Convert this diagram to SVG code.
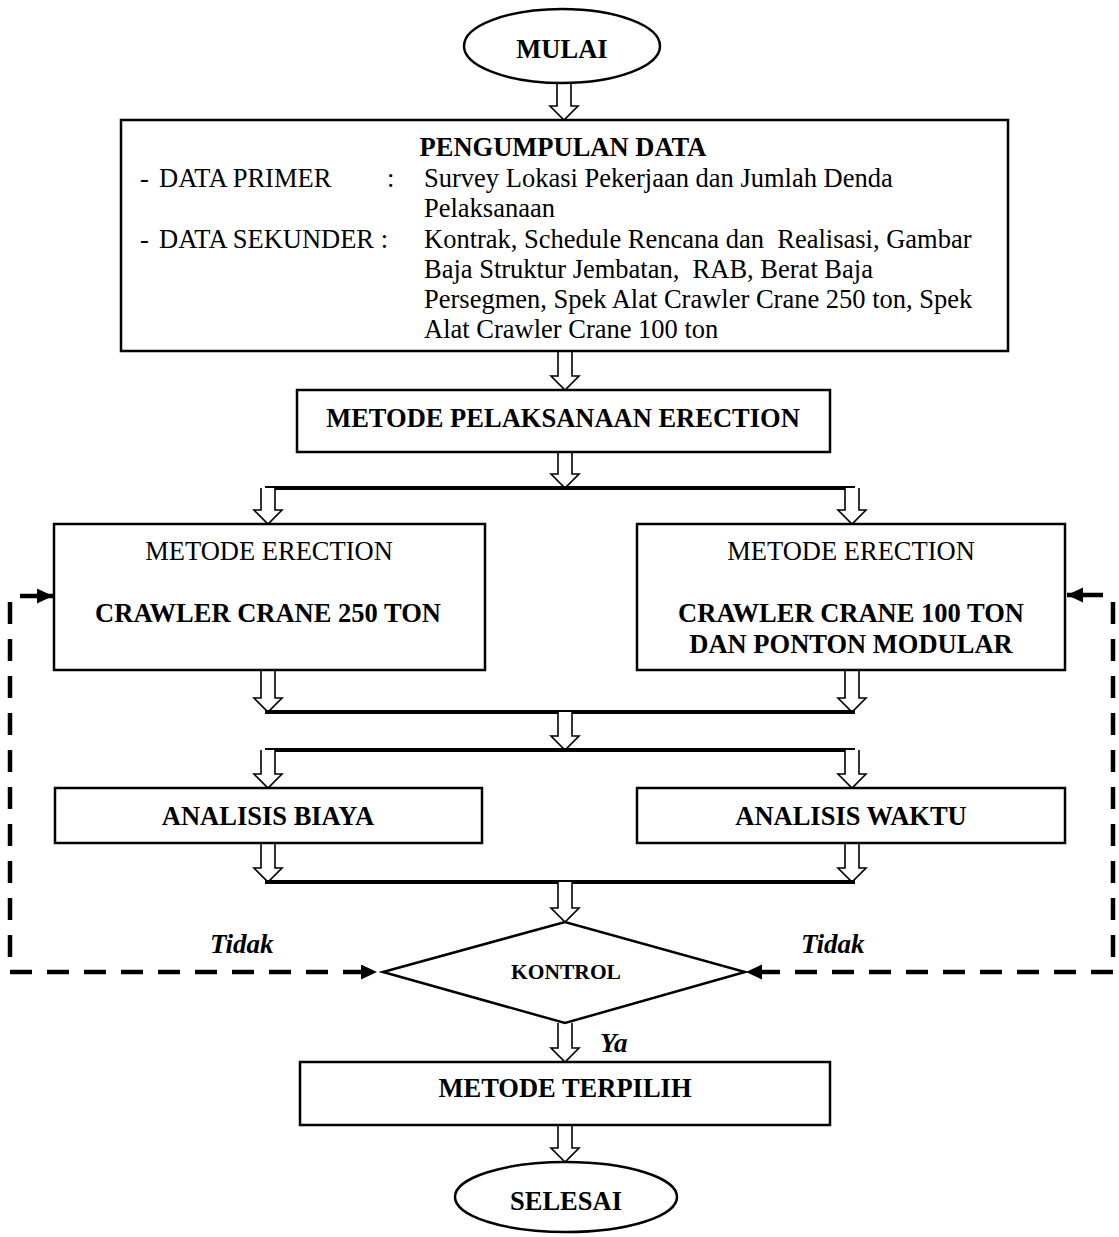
<svg xmlns="http://www.w3.org/2000/svg" width="1119" height="1237" viewBox="0 0 1119 1237">
<style>
.box{fill:#fff;stroke:#000;stroke-width:2.5}
.t{font-family:"Liberation Serif","Times New Roman",serif;font-size:26.5px;fill:#000}
.b{font-weight:bold}
.c{text-anchor:middle}
.it{font-style:italic;font-weight:bold;font-size:27px}
.ha{fill:#fff;stroke:#000;stroke-width:1.6;stroke-linejoin:miter}
.bar{stroke:#000;stroke-width:4;fill:none}
.dash{stroke:#000;stroke-width:4.5;fill:none;stroke-dasharray:22 15}
.sol{stroke:#000;stroke-width:4.5;fill:none}
</style>
<defs>
<marker id="ah" markerUnits="userSpaceOnUse" markerWidth="17" markerHeight="16" refX="16" refY="7.5" orient="auto">
<path d="M0,0 L16,7.5 L0,15 Z" fill="#000"/>
</marker>
</defs>

<g id="connectors">
<path class="ha" d="M557 83 V106 H550 L564 120 L578 106 H571 V83"/>
<path class="ha" d="M558 351 V376 H551 L565 390 L579 376 H572 V351"/>
<path class="ha" d="M558 452 V474 H551 L565 488 L579 474 H572 V452"/>
<line class="bar" x1="265" y1="488" x2="855" y2="488"/>
<path class="ha" d="M261 488 V510 H254 L268 524 L282 510 H275 V488"/>
<path class="ha" d="M845 488 V510 H838 L852 524 L866 510 H859 V488"/>
<path class="ha" d="M261 670 V698 H254 L268 712 L282 698 H275 V670"/>
<path class="ha" d="M845 670 V698 H838 L852 712 L866 698 H859 V670"/>
<line class="bar" x1="265" y1="712" x2="855" y2="712"/>
<path class="ha" d="M558 712 V736 H551 L565 750 L579 736 H572 V712"/>
<line class="bar" x1="265" y1="750" x2="855" y2="750"/>
<path class="ha" d="M261 750 V774 H254 L268 788 L282 774 H275 V750"/>
<path class="ha" d="M845 750 V774 H838 L852 788 L866 774 H859 V750"/>
<path class="ha" d="M261 843 V868 H254 L268 882 L282 868 H275 V843"/>
<path class="ha" d="M845 843 V868 H838 L852 882 L866 868 H859 V843"/>
<line class="bar" x1="265" y1="882" x2="855" y2="882"/>
<path class="ha" d="M558 882 V908 H551 L565 922 L579 908 H572 V882"/>
<path class="ha" d="M558 1023 V1048 H551 L565 1062 L579 1048 H572 V1023"/>
<path class="ha" d="M558 1125 V1148 H551 L565 1162 L579 1148 H572 V1125"/>
<path class="dash" d="M10 602 V972 H377" marker-end="url(#ah)"/>
<path class="sol" d="M20 596 H53" marker-end="url(#ah)"/>
<path class="dash" d="M1113 602 V972 H746" marker-end="url(#ah)"/>
<path class="sol" d="M1103 595 H1067" marker-end="url(#ah)"/>
<text class="t it" x="210" y="953">Tidak</text>
<text class="t it" x="801" y="953">Tidak</text>
<text class="t it" x="600" y="1052">Ya</text>
</g>

<g id="mulai">
<ellipse class="box" cx="562" cy="46" rx="98" ry="37"/>
<text class="t b c" x="562" y="58">MULAI</text>
</g>

<g id="pengumpulan-data">
<rect class="box" x="121" y="120" width="887" height="231"/>
<text class="t b c" x="563" y="156">PENGUMPULAN DATA</text>
<text class="t" x="140" y="187">-</text>
<text class="t" x="159" y="187">DATA PRIMER</text>
<text class="t" x="387" y="187">:</text>
<text class="t" x="140" y="248">-</text>
<text class="t" x="159" y="248">DATA SEKUNDER :</text>
<text class="t" x="424" y="187">Survey Lokasi Pekerjaan dan Jumlah Denda</text>
<text class="t" x="424" y="217">Pelaksanaan</text>
<text class="t" x="424" y="248" xml:space="preserve">Kontrak, Schedule Rencana dan  Realisasi, Gambar</text>
<text class="t" x="424" y="278" xml:space="preserve">Baja Struktur Jembatan,  RAB, Berat Baja</text>
<text class="t" x="424" y="308">Persegmen, Spek Alat Crawler Crane 250 ton, Spek</text>
<text class="t" x="424" y="338">Alat Crawler Crane 100 ton</text>
</g>

<g id="metode-pelaksanaan">
<rect class="box" x="297" y="390" width="533" height="62"/>
<text class="t b c" x="563" y="427">METODE PELAKSANAAN ERECTION</text>
</g>

<g id="metode-250">
<rect class="box" x="54" y="524" width="431" height="146"/>
<text class="t c" x="269" y="560">METODE ERECTION</text>
<text class="t b c" x="268" y="622">CRAWLER CRANE 250 TON</text>
</g>

<g id="metode-100">
<rect class="box" x="637" y="524" width="428" height="146"/>
<text class="t c" x="851" y="560">METODE ERECTION</text>
<text class="t b c" x="851" y="622">CRAWLER CRANE 100 TON</text>
<text class="t b c" x="851" y="653">DAN PONTON MODULAR</text>
</g>

<g id="analisis-biaya">
<rect class="box" x="55" y="788" width="427" height="55"/>
<text class="t b c" x="268" y="825">ANALISIS BIAYA</text>
</g>

<g id="analisis-waktu">
<rect class="box" x="637" y="788" width="428" height="55"/>
<text class="t b c" x="851" y="825">ANALISIS WAKTU</text>
</g>

<g id="kontrol">
<polygon class="box" points="383,972 565,922 745,972 565,1023"/>
<text class="t b c" x="566" y="979" style="font-size:21.5px">KONTROL</text>
</g>

<g id="metode-terpilih">
<rect class="box" x="300" y="1062" width="530" height="63"/>
<text class="t b c" x="565" y="1097">METODE TERPILIH</text>
</g>

<g id="selesai">
<ellipse class="box" cx="566" cy="1197" rx="111" ry="35"/>
<text class="t b c" x="566" y="1210">SELESAI</text>
</g>
</svg>
